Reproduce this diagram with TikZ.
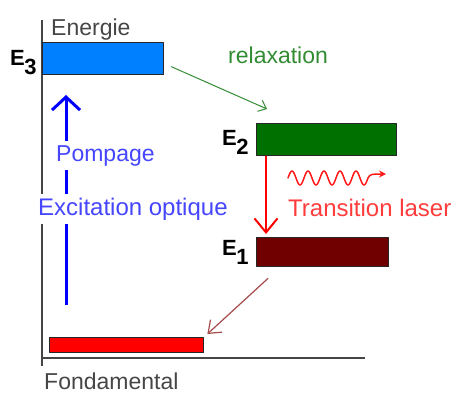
\documentclass[tikz,border=0pt]{standalone}
\usepackage{fontspec}
\setmainfont{Liberation Sans}
\usetikzlibrary{arrows.meta}

\definecolor{bluethree}{RGB}{0,128,255}
\definecolor{greentwo}{RGB}{0,112,0}
\definecolor{redone}{RGB}{112,0,0}
\definecolor{redzero}{RGB}{255,0,0}
\definecolor{pumpblue}{RGB}{70,70,255}
\definecolor{relaxgreen}{RGB}{50,140,50}
\definecolor{laserred}{RGB}{255,60,60}
\definecolor{decaybrown}{RGB}{165,75,75}
\definecolor{axisgray}{RGB}{70,70,70}

\newcommand{\lvlname}[1]{E\kern-0.5pt\raisebox{-9pt}{#1}}

\begin{document}
\begin{tikzpicture}[x=1pt,y=-1pt,line cap=round,line join=round,
  lvlbox/.style={draw=black!85,line width=1.4pt,anchor=north west,inner sep=0pt},
  txt/.style={font=\fontsize{23}{26}\selectfont,inner sep=1pt,anchor=base west},
  bigtxt/.style={txt,font=\fontsize{24}{27}\selectfont},
  lvltxt/.style={font=\fontsize{22}{26}\selectfont\bfseries,inner sep=0pt,anchor=base west}]
  \useasboundingbox (0,0) rectangle (458,394);

  % Axes
  \coordinate (O) at (42,358);
  \coordinate (Ytop) at (42,20);
  \coordinate (Ybot) at (42,366);
  \coordinate (Xend) at (365,358);
  \draw[axisgray,line width=1.8pt,line cap=butt] (Ytop) -- (Ybot);
  \draw[axisgray,line width=1.8pt,line cap=butt] (O) -- (Xend);

  % Energy levels
  \node[lvlbox,fill=bluethree,minimum width=121pt,minimum height=32pt] (E3) at (42,42) {};
  \node[lvlbox,fill=greentwo,minimum width=140pt,minimum height=32pt] (E2) at (256,123) {};
  \node[lvlbox,fill=redone,minimum width=132pt,minimum height=29pt] (E1) at (256,237) {};
  \node[lvlbox,fill=redzero,minimum width=154pt,minimum height=15pt] (E0) at (49,337) {};

  % Level names
  \node[lvltxt] (n3) at (10,65) {\lvlname{3}};
  \node[lvltxt] (n2) at (222,145) {\lvlname{2}};
  \node[lvltxt] (n1) at (222,255) {\lvlname{1}};

  % Pumping
  \coordinate (P1) at (66,305);
  \coordinate (P2) at (66,95);
  \draw[blue,line width=3pt,line cap=butt,-{Straight Barb[length=13pt,width=28pt]}] (P1) -- (P2);

  % Relaxation and decays
  \draw[relaxgreen,line width=1pt,-{Straight Barb[length=7pt,width=12pt]}]
    ([xshift=7pt,yshift=-8pt]E3.east) -- ([xshift=11pt,yshift=14pt]E2.north west);
  \draw[redzero,line width=2pt,-{Straight Barb[length=14pt,width=23pt]}]
    ([xshift=10pt]E2.south west) -- ([xshift=10pt,yshift=3pt]E1.north west);
  \draw[decaybrown,line width=1.2pt,-{Straight Barb[length=11pt,width=17pt]}]
    ([xshift=12pt,yshift=-11pt]E1.south west) -- ([xshift=3pt,yshift=3pt]E0.north east);

  % Emitted photon
  \coordinate (w1) at (288,178);
  \coordinate (w2) at (368,178);
  \coordinate (w3) at (386,174);
  \draw[redzero!90!white,line width=1.5pt,-{Stealth[length=7pt,width=7pt]}]
    (w1) -- plot[domain=0:80,samples=121,smooth] ({288+\x},{178-7*sin(\x*22.5)})
    .. controls (370,174) and (372,174) .. (w3);

  % Labels
  \node[txt,text=axisgray] (energie) at (50,35) {Energie};
  \node[txt,text=axisgray] (fond) at (43,389) {Fondamental};
  \node[txt,text=relaxgreen] (relax) at (227,63) {relaxation};
  \node[bigtxt,text=laserred] (laser) at (287,216) {Transition laser};
  \node[txt,text=pumpblue,fill=white,inner ysep=4pt] (pomp) at (55,161) {Pompage};
  \node[bigtxt,text=pumpblue,fill=white,inner ysep=4pt] (excit) at (37,215) {Excitation optique};
\end{tikzpicture}
\end{document}
